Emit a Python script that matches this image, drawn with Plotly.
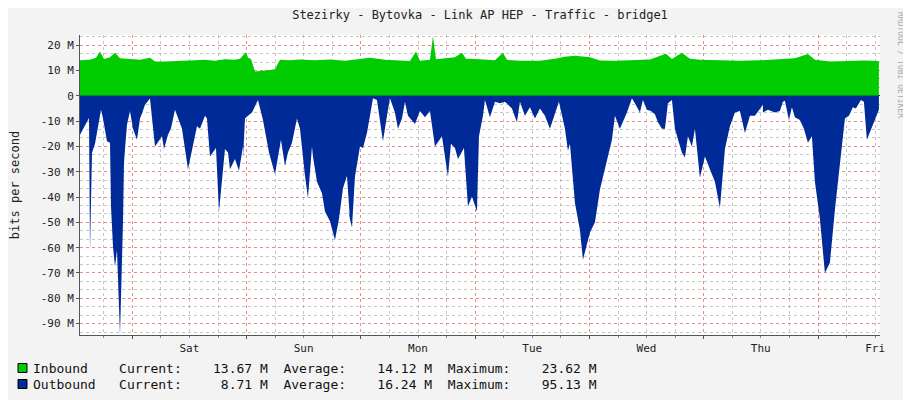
import plotly.graph_objects as go

# pixel-read samples, converted to hours since start (Fri ~13:00)
PX_PER_DAY = 114.3
X0 = 80

out_px = [80, 85, 89, 90, 92, 95, 98, 101, 103, 107, 110, 111, 113, 115, 117, 120, 123, 124, 125, 127,
          130, 133, 137, 140, 142, 145, 150, 155, 162, 164, 168, 171, 175, 182, 188, 194, 197, 200,
          205, 207, 210, 216, 219, 225, 228, 230, 235, 239, 243, 243, 245, 248, 252, 258, 263, 269,
          275, 281, 285, 288, 292, 297, 300, 305, 308, 312, 313, 317, 322, 325, 330, 335, 339, 343,
          347, 350, 353, 348, 352, 355, 360, 363, 367, 370, 373, 377, 381, 383, 387, 390, 395, 398,
          402, 405, 408, 415, 420, 425, 430, 435, 442, 448, 451, 455, 458, 464, 468, 472, 477, 479,
          483, 485, 490, 495, 500, 505, 512, 517, 520, 525, 530, 535, 540, 545, 550, 555, 559, 565,
          568, 570, 572, 575, 580, 583, 590, 595, 600, 607, 612, 615, 620, 627, 632, 635, 640, 643,
          647, 651, 655, 658, 662, 665, 668, 672, 675, 679, 682, 685, 688, 692, 695, 700, 705, 710,
          715, 720, 725, 730, 735, 740, 745, 750, 755, 763, 763, 768, 775, 780, 783, 785, 789, 792,
          795, 800, 804, 808, 812, 815, 820, 825, 830, 835, 840, 845, 849, 853, 856, 859, 861, 864, 867, 879]
out_val = [-15.4, -12, -8.8, -61.5, -22.5, -19, -13, -5.5, -9, -18, -18.6, -43.7, -59.6, -67.5, -61,
           -94.5, -50, -26.6, -21, -11.5, -6, -13, -17.4, -9, -7, -3.6, -1.1, -20, -16, -21, -15.4,
           -12.8, -5.5, -13, -29, -17.5, -12, -13, -7.9, -9, -24, -20.6, -45.7, -21, -22.4, -29, -25,
           -29.6, -20, -25, -9, -7.9, -6.6, -1.7, -9.6, -22.4, -31, -17.4, -27.7, -22.4, -18.6, -9, -13,
           -31.6, -40.4, -20, -24, -34, -38.5, -45.7, -49.6, -57, -48.6, -36.5, -31.6, -49, -52, -45,
           -52, -31.9, -20, -20.6, -14.7, -7.9, -1, -1.7, -12, -18, -7.9, -1, -6.6, -13, -9, -2.4, -7.9,
           -11.2, -6, -8.5, -6, -20, -16, -32, -19, -20.6, -25, -20.6, -43.7, -39.8, -45.7, -16, -7.9,
           -1.7, -8.5, -2.4, -3, -2.4, -5, -10.5, -2.4, -7.9, -4.5, -9, -5, -7.9, -13, -6.6, -2.4, -13,
           -21.7, -19, -28.6, -42.4, -53, -64.8, -54, -50, -37, -25, -17.4, -7.9, -13, -6.6, -1, -3,
           -6.6, -1.7, -5.5, -6, -7.3, -10.5, -13, -13, -3, -1.7, -13, -18.6, -22.4, -24.4, -16, -20,
           -13, -32.4, -24, -29, -34, -44.3, -21, -12, -6.6, -6, -14.7, -7.9, -7.9, -3.6, -6.6, -5.5,
           -6.6, -6, -2.4, -2, -9.6, -4.5, -8.5, -9.6, -13, -18.6, -16, -34, -48.6, -70, -66, -45,
           -26.6, -9, -7.9, -4.5, -5, -3, -1.7, -2.4, -17.4, -5.5, -4.5, -5.5, -6.6, -8.5, -13, -5.5, -8.5]

in_px = [80, 90, 96, 100, 104, 110, 115, 120, 130, 140, 150, 155, 165, 175, 185, 195, 205, 215, 225,
         235, 240, 246, 248, 251, 255, 262, 270, 275, 280, 290, 300, 315, 330, 345, 360, 370, 385, 400,
         410, 416, 420, 430, 433, 436, 445, 455, 462, 466, 480, 495, 503, 507, 520, 540, 555, 565, 575,
         590, 600, 615, 630, 650, 666, 672, 682, 690, 700, 720, 740, 760, 780, 795, 808, 815, 830, 850, 865, 879]
in_val = [14, 14.2, 15, 17.5, 14.5, 15.2, 17, 14.8, 14.5, 14.2, 15, 13.5, 13.5, 13.6, 13.7, 14, 14.2,
          13.8, 14.4, 14.2, 14.6, 17.2, 15, 14.5, 9.6, 9.8, 10.2, 10.5, 14.2, 14, 14.3, 14, 14.3, 13.8,
          14.5, 15, 14.2, 13.9, 13.7, 17.5, 13.8, 14.2, 23.6, 14.4, 14.8, 15.2, 17, 14.6, 14.4, 14,
          17, 14.2, 13.8, 13.8, 14.6, 15.4, 15.8, 15.2, 13.9, 13.8, 14, 14.3, 16.6, 14.5, 17, 14.6, 14.2,
          14, 13.8, 14, 14.3, 14.8, 16.5, 14.2, 13.5, 13.8, 13.9, 13.7]

day_labels = ["Sat", "Sun", "Mon", "Tue", "Wed", "Thu", "Fri"]
y_ticks = [20, 10, 0, -10, -20, -30, -40, -50, -60, -70, -80, -90]

legend_rows = [
    ("Inbound ", "#00cc00", "13.67 M", "14.12 M", "23.62 M"),
    ("Outbound", "#002a97", "8.71 M", "16.24 M", "95.13 M"),
]


def to_hours(px):
    return [(p - X0) * 24 / PX_PER_DAY for p in px]


# the page body has an 8px margin; plot area in page pixels: x 80..880, y 35..335
def px_x(p):
    return (p - 80) / 800


def px_y(p):
    return (335 - p) / 300


fig = go.Figure()
fig.add_trace(go.Scatter(x=to_hours(in_px), y=in_val, mode="lines", line=dict(width=0),
                         fill="tozeroy", fillcolor="#00cc00", hoverinfo="skip"))
fig.add_trace(go.Scatter(x=to_hours(out_px), y=out_val, mode="lines", line=dict(width=0),
                         fill="tozeroy", fillcolor="#002a97", hoverinfo="skip"))

mono = "DejaVu Sans Mono"
fig.update_layout(
    width=911, height=400,
    margin=dict(l=72, r=39, t=27, b=73, autoexpand=False),
    paper_bgcolor="#f3f3f3", plot_bgcolor="white",
    showlegend=False,
    font=dict(family=mono, size=11, color="#333"),
    title=dict(text="Stezirky - Bytovka - Link AP HEP - Traffic - bridge1", x=0.5, xref="paper",
               y=1 - 7 / 400, yanchor="middle", font=dict(family=mono, size=12, color="#222")),
)
fig.update_xaxes(
    range=[0, 168], tickmode="array", tickvals=[11 + 24 * i for i in range(7)], ticktext=day_labels,
    ticklabelshift=57, showgrid=True, gridcolor="rgba(255,100,100,0.6)", griddash="dot", gridwidth=1,
    ticks="outside", ticklen=3, tickcolor="#555", showline=True, linecolor="#555", zeroline=False,
    automargin=False,
    minor=dict(dtick=6, tick0=5, showgrid=True, gridcolor="rgba(160,160,160,0.6)", griddash="dot",
               ticks="outside", ticklen=2, tickcolor="#888"),
    tickfont=dict(family=mono, size=11, color="#222"),
)
fig.update_yaxes(
    range=[-94.5, 24], tickmode="array", tickvals=y_ticks,
    ticktext=[("%d M" % v) if v else "0" for v in y_ticks],
    showgrid=True, gridcolor="rgba(255,100,100,0.6)", griddash="dot", showline=True, linecolor="#555",
    zeroline=True, zerolinecolor="#222", zerolinewidth=1, ticks="outside", ticklen=3, tickcolor="#555",
    automargin=False,
    minor=dict(dtick=10 / 3, tick0=0, showgrid=True, gridcolor="rgba(160,160,160,0.6)", griddash="dot"),
    title=dict(text="bits per second", font=dict(family=mono, size=12, color="#222"), standoff=20),
    tickfont=dict(family=mono, size=11, color="#222"),
)

for i, (name, col, cur, avg, mx) in enumerate(legend_rows):
    ypix = 368 + 16 * i
    fig.add_shape(type="rect", xref="paper", yref="paper",
                  x0=px_x(18), x1=px_x(27), y0=px_y(ypix + 4.5), y1=px_y(ypix - 4.5),
                  line=dict(color="black", width=1), fillcolor=col)
    txt = "%s   Current:%s  Average:%s  Maximum:%s" % (name, cur.rjust(11), avg.rjust(11), mx.rjust(11))
    fig.add_annotation(xref="paper", yref="paper", x=px_x(31), y=px_y(ypix), xanchor="left",
                       yanchor="middle", showarrow=False, text=txt.replace(" ", "\u00a0"),
                       font=dict(family=mono, size=13, color="#111"))

fig.add_annotation(xref="paper", yref="paper", x=px_x(901), y=px_y(10), textangle=90,
                   xanchor="center", yanchor="top", showarrow=False, text="RRDTOOL / TOBI OETIKER",
                   font=dict(family=mono, size=8, color="#aaa"))

fig.write_html("out.html")
